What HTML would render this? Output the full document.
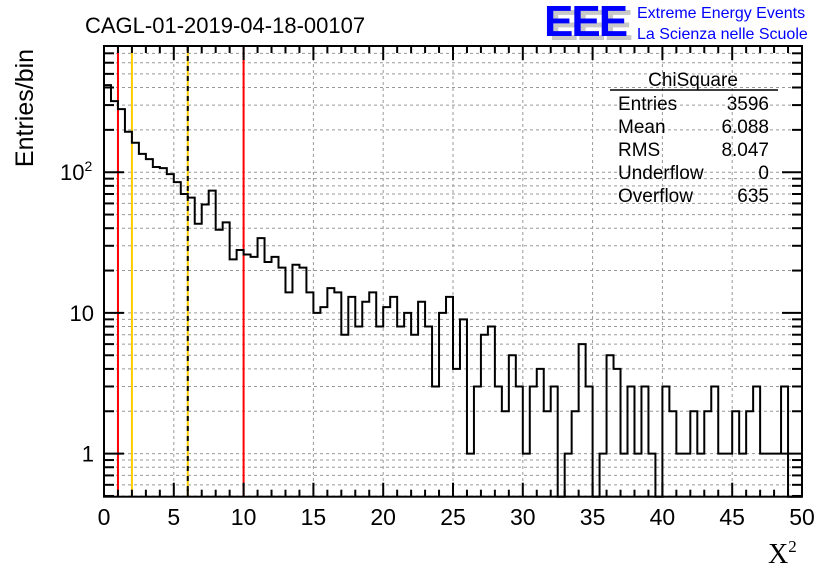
<!DOCTYPE html>
<html><head><meta charset="utf-8"><style>
body{margin:0;background:#fff;}
svg{display:block;font-family:"Liberation Sans",sans-serif;}
</style></head><body>
<svg id="chart" width="836" height="572" viewBox="0 0 836 572">
<rect width="836" height="572" fill="#fff"/>
<g id="grid"></g>
<g id="vlines"></g>
<path id="hist" fill="none" stroke="#000" stroke-width="2"/>
<g id="axes"></g>
<text x="85" y="33" font-size="22">CAGL-01-2019-04-18-00107</text>
<g>
<text x="549" y="40" font-size="44" font-weight="bold" fill="#c8c8c8" letter-spacing="-2">EEE</text>
<text x="544" y="36" font-size="44" font-weight="bold" fill="#0000ff" letter-spacing="-2">EEE</text>
<text x="637" y="18" font-size="16" fill="#0000ff">Extreme Energy Events</text>
<text x="637" y="39" font-size="16" fill="#0000ff">La Scienza nelle Scuole</text>
</g>
<g font-size="19">
<text x="693" y="86" text-anchor="middle">ChiSquare</text>
<line x1="610" y1="90" x2="778" y2="90" stroke="#000" stroke-width="1.5"/>
<text x="618" y="110">Entries</text><text x="769" y="110" text-anchor="end">3596</text>
<text x="618" y="133">Mean</text><text x="769" y="133" text-anchor="end">6.088</text>
<text x="618" y="156">RMS</text><text x="769" y="156" text-anchor="end">8.047</text>
<text x="618" y="179">Underflow</text><text x="769" y="179" text-anchor="end">0</text>
<text x="618" y="202">Overflow</text><text x="769" y="202" text-anchor="end">635</text>
</g>
<text transform="translate(33,108) rotate(-90)" font-size="25" text-anchor="middle">Entries/bin</text>
<text x="768" y="563" font-size="28" font-family="Liberation Serif,serif">X<tspan font-size="17" dy="-11">2</tspan></text>
</svg>
<script>
const counts=[416,320,281,194,162,135,124,109,107,97,85,70,66,43,59,74,39,44,24,28,26,25,34,23,25,21,14,22,21,14,10,11,15,14,7,13,8,12,14,8,11,13,8,10,7,12,8,3,10,13,4,9,1,3,7,8,3,2,5,3,1,3,4,2,3,0,1,2,6,3,0,1,5,4,1,3,1,3,1,0,3,2,1,1,2,1,2,3,1,1,2,1,2,3,1,1,1,3,0,0];
const binWidth=0.5;
const xTicks=[0,5,10,15,20,25,30,35,40,45,50];
const cutLines=[1,2,6,10];
const cutColors=["#ff0000","#ffcc00","#ffcc00","#ff0000"];
const X0=104,X1=802,Y0=496.7,YT=46,xmin=0,xmax=50,ymin=0.494,ymax=789;
const sx=v=>X0+(v-xmin)/(xmax-xmin)*(X1-X0);
const sy=v=>{if(v<=0)return Y0;const y=Y0-(Math.log10(v)-Math.log10(ymin))/(Math.log10(ymax)-Math.log10(ymin))*(Y0-YT);return Math.max(y,YT);};
const NS="http://www.w3.org/2000/svg";
function mk(t,a,p){const e=document.createElementNS(NS,t);for(const k in a)e.setAttribute(k,a[k]);p.appendChild(e);return e;}
const grid=document.getElementById('grid'),axes=document.getElementById('axes'),vl=document.getElementById('vlines');
xTicks.forEach(t=>{if(t>xmin&&t<xmax){const l=mk('line',{x1:sx(t),x2:sx(t),y1:YT,y2:Y0,stroke:'#999','stroke-dasharray':'3,3','stroke-width':1},grid);

}});
const yGridVals=[];
for(let d=-1;d<=2;d++)for(let m=1;m<=9;m++){const v=m*Math.pow(10,d);if(v>ymin&&v<ymax)yGridVals.push(v);}
yGridVals.forEach(v=>{const l=mk('line',{x1:X0,x2:X1,y1:sy(v),y2:sy(v),stroke:'#999','stroke-dasharray':'3,3','stroke-width':1},grid);


const major=[1,10,100].includes(Math.round(v*1000)/1000);
const len=major?20:10;
const t1=mk('line',{x1:X0,x2:X0+len,y1:sy(v),y2:sy(v),stroke:'#000','stroke-width':2},axes);


const t2=mk('line',{x1:X1,x2:X1-len,y1:sy(v),y2:sy(v),stroke:'#000','stroke-width':2},axes);

});
cutLines.forEach((c,i)=>{const l=mk('line',{x1:sx(c),x2:sx(c),y1:YT,y2:Y0,stroke:cutColors[i],'stroke-width':2},vl);


if(c===6){const d=mk('line',{x1:sx(c),x2:sx(c),y1:YT,y2:Y0,stroke:'#000','stroke-width':2,'stroke-dasharray':'5,5'},vl);

}});
let d='M'+sx(0)+','+Y0;
counts.forEach((c,i)=>{const y=sy(c);d+=' L'+sx(i*binWidth)+','+y+' L'+sx((i+1)*binWidth)+','+y;});
document.getElementById('hist').setAttribute('d',d);
const fr=mk('rect',{x:X0,y:YT,width:X1-X0,height:Y0-YT,fill:'none',stroke:'#000','stroke-width':2},axes);


for(let v=xmin;v<=xmax;v+=1){const major=v%5===0;const len=major?14:7;
const t=mk('line',{x1:sx(v),x2:sx(v),y1:Y0,y2:Y0-len,stroke:'#000','stroke-width':2},axes);


const t2=mk('line',{x1:sx(v),x2:sx(v),y1:YT,y2:YT+len,stroke:'#000','stroke-width':2},axes);

}
xTicks.forEach(t=>{const e=mk('text',{x:sx(t),y:525,'font-size':23,'text-anchor':'middle'},axes);e.textContent=t;

});
const yl=[[1,'1'],[10,'10']];
yl.forEach(([v,s])=>{const e=mk('text',{x:94,y:sy(v)+8,'font-size':22,'text-anchor':'end'},axes);e.textContent=s;

});
const e=mk('text',{x:60,y:sy(100)+8,'font-size':22},axes);e.innerHTML='10<tspan font-size="14" dy="-9">2</tspan>';


</script>
</body></html>
